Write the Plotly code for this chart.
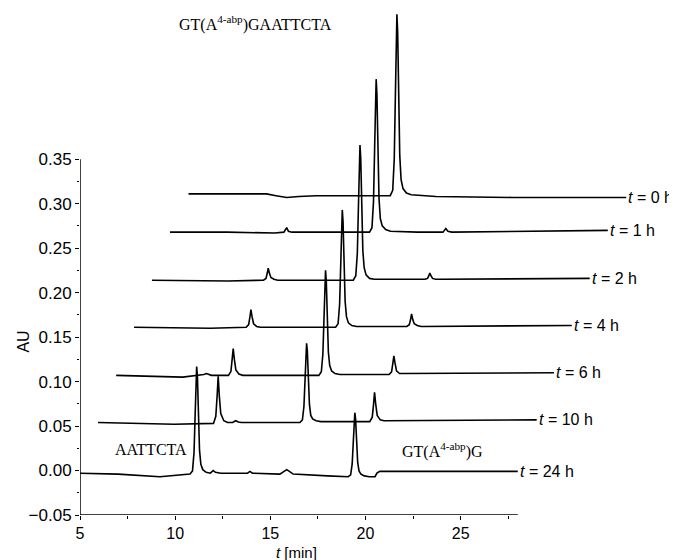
import plotly.graph_objects as go

# ---- data: chromatograms (raw retention time [min], absorbance relative to own baseline) ----
labels = ["t = 0 h", "t = 1 h", "t = 2 h", "t = 4 h", "t = 6 h", "t = 10 h", "t = 24 h"]
label_html = ["<i>t</i> = 0 h", "<i>t</i> = 1 h", "<i>t</i> = 2 h", "<i>t</i> = 4 h",
              "<i>t</i> = 6 h", "<i>t</i> = 10 h", "<i>t</i> = 24 h"]

# waterfall offsets of each trace (time shift [min], absorbance shift [AU])
x_shift = [5.70, 4.73, 3.78, 2.84, 1.90, 0.945, 0.0]
y_shift = [0.311, 0.268, 0.214, 0.161, 0.107, 0.054, 0.0]

t_0h = [5.0, 7.0, 9.1, 9.6, 10.16, 10.8, 11.7, 13.5, 15.0, 15.60, 15.73, 15.81, 15.87, 15.92, 15.95,
        15.99, 16.04, 16.10, 16.17, 16.27, 16.45, 16.70, 18.0, 22.0, 28.0]
a_0h = [0.0, 0.0, 0.0, -0.002, -0.004, -0.003, -0.002, -0.002, -0.002, -0.002, 0.004, 0.039, 0.110, 0.186, 0.202,
        0.182, 0.110, 0.043, 0.016, 0.006, 0.001, -0.001, -0.003, -0.004, -0.004]

t_1h = [5.0, 8.0, 10.5, 10.98, 11.13, 11.22, 11.4, 13.0, 15.0, 15.48, 15.61, 15.69, 15.75, 15.80, 15.83,
        15.87, 15.92, 15.98, 16.05, 16.15, 16.33, 16.58, 18.0, 19.34, 19.49, 19.6, 19.8, 24.0, 28.0]
a_1h = [0.0, 0.0, -0.001, 0.0, 0.005, 0.001, 0.0, 0.0, 0.0, 0.0, 0.005, 0.034, 0.095, 0.158, 0.172,
        0.155, 0.095, 0.038, 0.015, 0.007, 0.003, 0.001, 0.0, 0.0, 0.004, 0.001, 0.0, 0.001, 0.002]

t_2h = [5.0, 9.0, 10.86, 10.99, 11.06, 11.11, 11.17, 11.25, 11.41, 11.61, 14.0, 15.58, 15.71, 15.79, 15.85,
        15.90, 15.93, 15.97, 16.02, 16.08, 16.15, 16.25, 16.43, 16.68, 19.35, 19.48, 19.55, 19.60, 19.66,
        19.74, 19.90, 20.1, 28.0]
a_2h = [0.0, -0.001, 0.0, 0.002, 0.008, 0.0135, 0.008, 0.003, 0.001, 0.0, 0.0, 0.0, 0.005, 0.030, 0.084,
        0.140, 0.152, 0.137, 0.084, 0.033, 0.014, 0.006, 0.002, 0.001, 0.001, 0.002, 0.005, 0.008, 0.005,
        0.002, 0.001, 0.001, 0.002]

t_4h = [5.0, 9.0, 10.89, 11.02, 11.09, 11.14, 11.20, 11.28, 11.44, 11.64, 15.59, 15.72, 15.80, 15.86,
        15.91, 15.94, 15.98, 16.03, 16.09, 16.16, 16.26, 16.44, 16.69, 19.33, 19.46, 19.53, 19.58, 19.64,
        19.72, 19.88, 20.08, 28.0]
a_4h = [0.0, -0.001, 0.0, 0.003, 0.012, 0.020, 0.012, 0.004, 0.001, 0.0, 0.0, 0.004, 0.026, 0.073,
        0.121, 0.132, 0.119, 0.073, 0.029, 0.012, 0.005, 0.002, 0.001, 0.001, 0.003, 0.009, 0.015, 0.009,
        0.004, 0.002, 0.001, 0.002]

t_6h = [5.0, 8.5, 9.6, 9.75, 10.0, 10.90, 11.03, 11.10, 11.15, 11.21, 11.29, 11.45, 11.65, 15.65, 15.78,
        15.86, 15.92, 15.97, 16.00, 16.04, 16.09, 16.15, 16.22, 16.32, 16.50, 16.75, 19.34, 19.47, 19.54,
        19.59, 19.65, 19.73, 19.89, 20.09, 28.0]
a_6h = [0.0, -0.002, 0.001, 0.002, 0.0, 0.0, 0.0045, 0.018, 0.030, 0.018, 0.006, 0.0015, 0.0, 0.0, 0.004,
        0.024, 0.065, 0.109, 0.118, 0.106, 0.065, 0.026, 0.011, 0.005, 0.002, 0.001, 0.001, 0.004, 0.014,
        0.022, 0.014, 0.005, 0.002, 0.002, 0.003]

t_10h = [5.0, 9.0, 11.07, 11.19, 11.26, 11.315, 11.37, 11.45, 11.61, 11.81, 12.08, 12.23, 12.38, 12.53,
         15.61, 15.74, 15.82, 15.88, 15.93, 15.96, 16.00, 16.05, 16.11, 16.18, 16.28, 16.46, 16.71,
         19.28, 19.41, 19.48, 19.53, 19.59, 19.67, 19.83, 20.03, 28.05]
a_10h = [0.0, -0.002, -0.001, 0.007, 0.030, 0.052, 0.031, 0.010, 0.002, 0.0, 0.0, 0.002, 0.0005, 0.0,
         0.0, 0.003, 0.018, 0.049, 0.082, 0.089, 0.080, 0.049, 0.020, 0.008, 0.004, 0.002, 0.001,
         0.001, 0.006, 0.021, 0.034, 0.021, 0.008, 0.003, 0.002, 0.003]

t_24h = [5.0, 7.0, 9.2, 10.5, 10.78, 10.91, 10.99, 11.05, 11.10, 11.13, 11.17, 11.22, 11.28, 11.35, 11.45,
         11.63, 11.85, 12.0, 12.12, 12.4, 13.8, 13.93, 14.06, 15.5, 15.7, 15.86, 16.0, 16.2, 18.0, 19.09,
         19.22, 19.30, 19.36, 19.41, 19.44, 19.48, 19.53, 19.59, 19.66, 19.76, 19.94, 20.2, 20.5, 20.6,
         20.75, 24.0, 28.0]
a_24h = [-0.003, -0.004, -0.007, -0.005, -0.004, -0.0004, 0.020, 0.0626, 0.107, 0.117, 0.105, 0.0626,
         0.0226, 0.007, 0.001, -0.002, -0.003, 0.0, -0.002, -0.003, -0.003, -0.001, -0.003, -0.004,
         -0.001, 0.001, -0.001, -0.004, -0.006, -0.007, -0.0048, 0.0074, 0.0326, 0.0592, 0.065, 0.0578,
         0.0326, 0.0088, -0.0005, -0.004, -0.006, -0.007, -0.007, -0.003, -0.001, -0.001, -0.001]

times = [t_0h, t_1h, t_2h, t_4h, t_6h, t_10h, t_24h]
absorb = [a_0h, a_1h, a_2h, a_4h, a_6h, a_10h, a_24h]

x_ticks = [5, 10, 15, 20, 25]
x_minor = [7.5, 12.5, 17.5, 22.5, 27.5]
y_ticks = [-0.05, 0.0, 0.05, 0.10, 0.15, 0.20, 0.25, 0.30, 0.35]
y_ticktext = ["\u22120.05", "0.00", "0.05", "0.10", "0.15", "0.20", "0.25", "0.30", "0.35"]
y_minor = [-0.025, 0.025, 0.075, 0.125, 0.175, 0.225, 0.275, 0.325]

x_axis_end = 28.0
y_axis_top = 0.35

# ---- figure ----
fig = go.Figure()
for t, a, dx, dy, name in zip(times, absorb, x_shift, y_shift, labels):
    fig.add_trace(go.Scatter(
        x=[v + dx for v in t], y=[v + dy for v in a], mode="lines", name=name,
        line=dict(color="black", width=1.6), showlegend=False, hoverinfo="skip",
        cliponaxis=False))

sans = "Liberation Sans, Arial, sans-serif"
serif = "Liberation Serif, Times New Roman, serif"

annotations = []
for t, a, dx, dy, lab in zip(times, absorb, x_shift, y_shift, label_html):
    annotations.append(dict(x=t[-1] + dx, y=a[-1] + dy, xref="x", yref="y", text=lab,
                            showarrow=False, xanchor="left", yanchor="middle", xshift=0,
                            font=dict(family=sans, size=16, color="black")))

annotations += [
    dict(x=10.09, y=0.503, xref="x", yref="y", text="GT(A<sup>4-abp</sup>)GAATTCTA",
         showarrow=False, xanchor="left", yanchor="middle",
         font=dict(family=serif, size=16, color="black")),
    dict(x=6.73, y=0.024, xref="x", yref="y", text="AATTCTA",
         showarrow=False, xanchor="left", yanchor="middle",
         font=dict(family=serif, size=16, color="black")),
    dict(x=21.8, y=0.022, xref="x", yref="y", text="GT(A<sup>4-abp</sup>)G",
         showarrow=False, xanchor="left", yanchor="middle",
         font=dict(family=serif, size=16, color="black")),
    dict(x=-0.098, y=0.145, xref="paper", yref="y", text="AU", textangle=-90,
         showarrow=False, xanchor="center", yanchor="middle",
         font=dict(family=sans, size=16, color="black")),
    dict(x=16.4, y=-0.073, xref="x", yref="paper", text="<i>t</i> [min]",
         showarrow=False, xanchor="center", yanchor="middle",
         font=dict(family=sans, size=15, color="black")),
]

shapes = [
    dict(type="line", xref="x", yref="y", x0=5, x1=x_axis_end, y0=-0.05, y1=-0.05,
         line=dict(color="black", width=1.5)),
    dict(type="line", xref="x", yref="y", x0=5, x1=5, y0=-0.05, y1=y_axis_top,
         line=dict(color="black", width=1.5)),
]

# page body has an 8 px margin, so the figure is 669x552 to fill the 677x560 window
fig.update_layout(
    template="none",
    width=669, height=552,
    margin=dict(l=72, r=26, t=0, b=45, autoexpand=False),
    paper_bgcolor="white", plot_bgcolor="white",
    annotations=annotations, shapes=shapes,
    xaxis=dict(range=[5, 35.0], automargin=False, showline=False, showgrid=False, zeroline=False,
               tickmode="array", tickvals=x_ticks, ticktext=[str(v) for v in x_ticks],
               ticks="outside", ticklen=4, tickwidth=1.2, tickcolor="black",
               minor=dict(tickmode="array", tickvals=x_minor, ticks="outside", ticklen=3,
                          tickwidth=1, tickcolor="black"),
               tickfont=dict(family=sans, size=16, color="black")),
    yaxis=dict(range=[-0.05, 0.52], automargin=False, showline=False, showgrid=False, zeroline=False,
               tickmode="array", tickvals=y_ticks, ticktext=y_ticktext,
               ticks="outside", ticklen=4, tickwidth=1.2, tickcolor="black",
               minor=dict(tickmode="array", tickvals=y_minor, ticks="outside", ticklen=2,
                          tickwidth=1, tickcolor="black"),
               tickfont=dict(family=sans, size=17, color="black")),
)

fig.write_html("out.html")
